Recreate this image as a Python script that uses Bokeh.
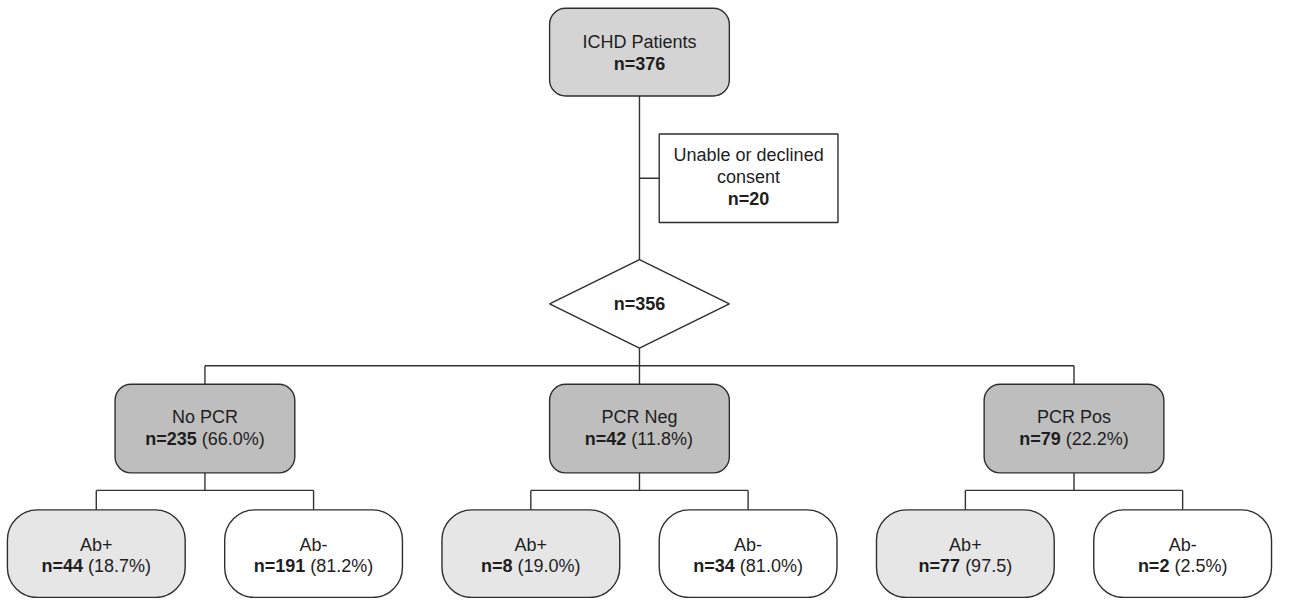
from bokeh.plotting import figure
from bokeh.models import Range1d
from bokeh.core.properties import value
from bokeh.embed import file_html
from bokeh.resources import INLINE

# ---------------- data ----------------
root_label = "ICHD Patients"
root_n = 376
excluded_lines = ["Unable or declined", "consent"]
excluded_n = 20
eligible_n = 356
pcr_groups = ["No PCR", "PCR Neg", "PCR Pos"]
pcr_n = [235, 42, 79]
pcr_pct = ["66.0%", "11.8%", "22.2%"]
ab_status = ["Ab+", "Ab-"]
ab_n = [[44, 191], [8, 34], [77, 2]]
ab_pct = [["18.7%", "81.2%"], ["19.0%", "81.0%"], ["97.5", "2.5%"]]

# ---------------- layout (reference pixel space) ----------------
W_IMG, H_IMG = 1289, 614
PW, PH = 1273, 598
SX = PW / W_IMG
FONT_PX = 18
FONT = "Liberation Sans"
TY = -6  # baseline correction

center_x = 647
group_x = [207, 647, 1087]
child_dx = 110
root_box = dict(top=8, bottom=98, hw=91)
excl_box = dict(left=667, right=848, top=137, bottom=228)
dia_cy, dia_hw, dia_hh = 311.5, 91, 45.5
branch_y = 375
mid_box = dict(top=394, bottom=485, hw=91)
split_y = 503
leaf_box = dict(top=523, bottom=613, hw=90)

LINE_C = "#333333"
EDGE_C = "#2e2e2e"
TEXT_C = "#1e1e1e"
ROOT_FILL = "#d4d4d4"
MID_FILL = "#bebebe"
LEAF_FILL = ["#e6e6e6", "#ffffff"]
LW = 1.4

# Arial / Liberation Sans advance widths (1/1000 em)
REG = {" ": 278, "(": 333, ")": 333, "%": 889, ".": 278, "=": 584, "n": 556,
       "+": 584, "-": 333}
BOLD = {"n": 611, "=": 584, " ": 278}
for d in "0123456789":
    REG[d] = 556
    BOLD[d] = 556


def text_w(s, bold):
    tbl = BOLD if bold else REG
    return sum(tbl.get(c, 556) for c in s) / 1000 * FONT_PX / SX


p = figure(width=PW, height=PH, output_backend="svg", toolbar_location=None,
           x_range=Range1d(0, W_IMG), y_range=Range1d(H_IMG, 0),
           min_border=0, outline_line_color=None, background_fill_color="white",
           border_fill_color="white")
p.axis.visible = False
p.grid.visible = False

# ---------------- connector lines ----------------
x0s, y0s, x1s, y1s = [], [], [], []


def seg(a, b, c, d):
    x0s.append(a); y0s.append(b); x1s.append(c); y1s.append(d)


ey_mid = (excl_box["top"] + excl_box["bottom"]) / 2
seg(center_x, root_box["bottom"], center_x, dia_cy - dia_hh)
seg(center_x, ey_mid, excl_box["left"], ey_mid)
seg(center_x, dia_cy + dia_hh, center_x, branch_y)
seg(group_x[0], branch_y, group_x[-1], branch_y)
for gx in group_x:
    seg(gx, branch_y, gx, mid_box["top"])
    seg(gx, mid_box["bottom"], gx, split_y)
    seg(gx - child_dx, split_y, gx + child_dx, split_y)
    seg(gx - child_dx, split_y, gx - child_dx, leaf_box["top"])
    seg(gx + child_dx, split_y, gx + child_dx, leaf_box["top"])
p.segment(x0=x0s, y0=y0s, x1=x1s, y1=y1s, line_color=LINE_C, line_width=LW)

# ---------------- boxes ----------------
p.quad(left=[center_x - root_box["hw"]], right=[center_x + root_box["hw"]],
       top=[root_box["top"]], bottom=[root_box["bottom"]], fill_color=ROOT_FILL,
       line_color=EDGE_C, line_width=LW, border_radius=16)
p.quad(left=[excl_box["left"]], right=[excl_box["right"]], top=[excl_box["top"]],
       bottom=[excl_box["bottom"]], fill_color="white", line_color=EDGE_C, line_width=LW)
p.patch(x=[center_x, center_x + dia_hw, center_x, center_x - dia_hw],
        y=[dia_cy - dia_hh, dia_cy, dia_cy + dia_hh, dia_cy],
        fill_color="white", line_color=EDGE_C, line_width=LW)
p.quad(left=[gx - mid_box["hw"] for gx in group_x],
       right=[gx + mid_box["hw"] for gx in group_x],
       top=[mid_box["top"]] * 3, bottom=[mid_box["bottom"]] * 3,
       fill_color=MID_FILL, line_color=EDGE_C, line_width=LW, border_radius=16)
lx, lc = [], []
for gx in group_x:
    for k in range(2):
        lx.append(gx + (2 * k - 1) * child_dx)
        lc.append(LEAF_FILL[k])
p.quad(left=[x - leaf_box["hw"] for x in lx], right=[x + leaf_box["hw"] for x in lx],
       top=[leaf_box["top"]] * 6, bottom=[leaf_box["bottom"]] * 6,
       fill_color=lc, line_color=EDGE_C, line_width=LW, border_radius=30)

# ---------------- texts ----------------
reg_t = dict(x=[], y=[], t=[])
bold_t = dict(x=[], y=[], t=[])


def add_line(cx, y, bold_s, reg_s):
    gap = text_w(" ", False)
    wb, wr = text_w(bold_s, True), text_w(reg_s, False)
    x = cx - (wb + gap + wr) / 2
    bold_t["x"].append(x); bold_t["y"].append(y + TY); bold_t["t"].append(bold_s)
    reg_t["x"].append(x + wb + gap); reg_t["y"].append(y + TY); reg_t["t"].append(reg_s)


centered = []
rc = (root_box["top"] + root_box["bottom"]) / 2
centered.append((center_x, rc - 4, root_label, False))
centered.append((center_x, rc + 18, f"n={root_n}", True))
ec = (excl_box["left"] + excl_box["right"]) / 2
centered.append((ec, ey_mid - 17.5, excluded_lines[0], False))
centered.append((ec, ey_mid + 4.5, excluded_lines[1], False))
centered.append((ec, ey_mid + 27.5, f"n={excluded_n}", True))
centered.append((center_x, dia_cy + 6.5, f"n={eligible_n}", True))
mc = (mid_box["top"] + mid_box["bottom"]) / 2
lcy = (leaf_box["top"] + leaf_box["bottom"]) / 2
for i, gx in enumerate(group_x):
    centered.append((gx, mc - 5.5, pcr_groups[i], False))
    add_line(gx, mc + 16.5, f"n={pcr_n[i]}", f"({pcr_pct[i]})")
    for k in range(2):
        x = gx + (2 * k - 1) * child_dx
        centered.append((x, lcy - 3, ab_status[k], False))
        add_line(x, lcy + 19, f"n={ab_n[i][k]}", f"({ab_pct[i][k]})")

common = dict(text_font=value(FONT), text_font_size=f"{FONT_PX}px",
              text_color=TEXT_C, text_baseline="alphabetic")
p.text(x=reg_t["x"], y=reg_t["y"], text=reg_t["t"], text_align="left",
       text_font_style="normal", **common)
p.text(x=bold_t["x"], y=bold_t["y"], text=bold_t["t"], text_align="left",
       text_font_style="bold", **common)
p.text(x=[c[0] for c in centered if not c[3]], y=[c[1] + TY for c in centered if not c[3]],
       text=[c[2] for c in centered if not c[3]], text_align="center",
       text_font_style="normal", **common)
p.text(x=[c[0] for c in centered if c[3]], y=[c[1] + TY for c in centered if c[3]],
       text=[c[2] for c in centered if c[3]], text_align="center",
       text_font_style="bold", **common)

open("out.html", "w").write(file_html(p, INLINE))
